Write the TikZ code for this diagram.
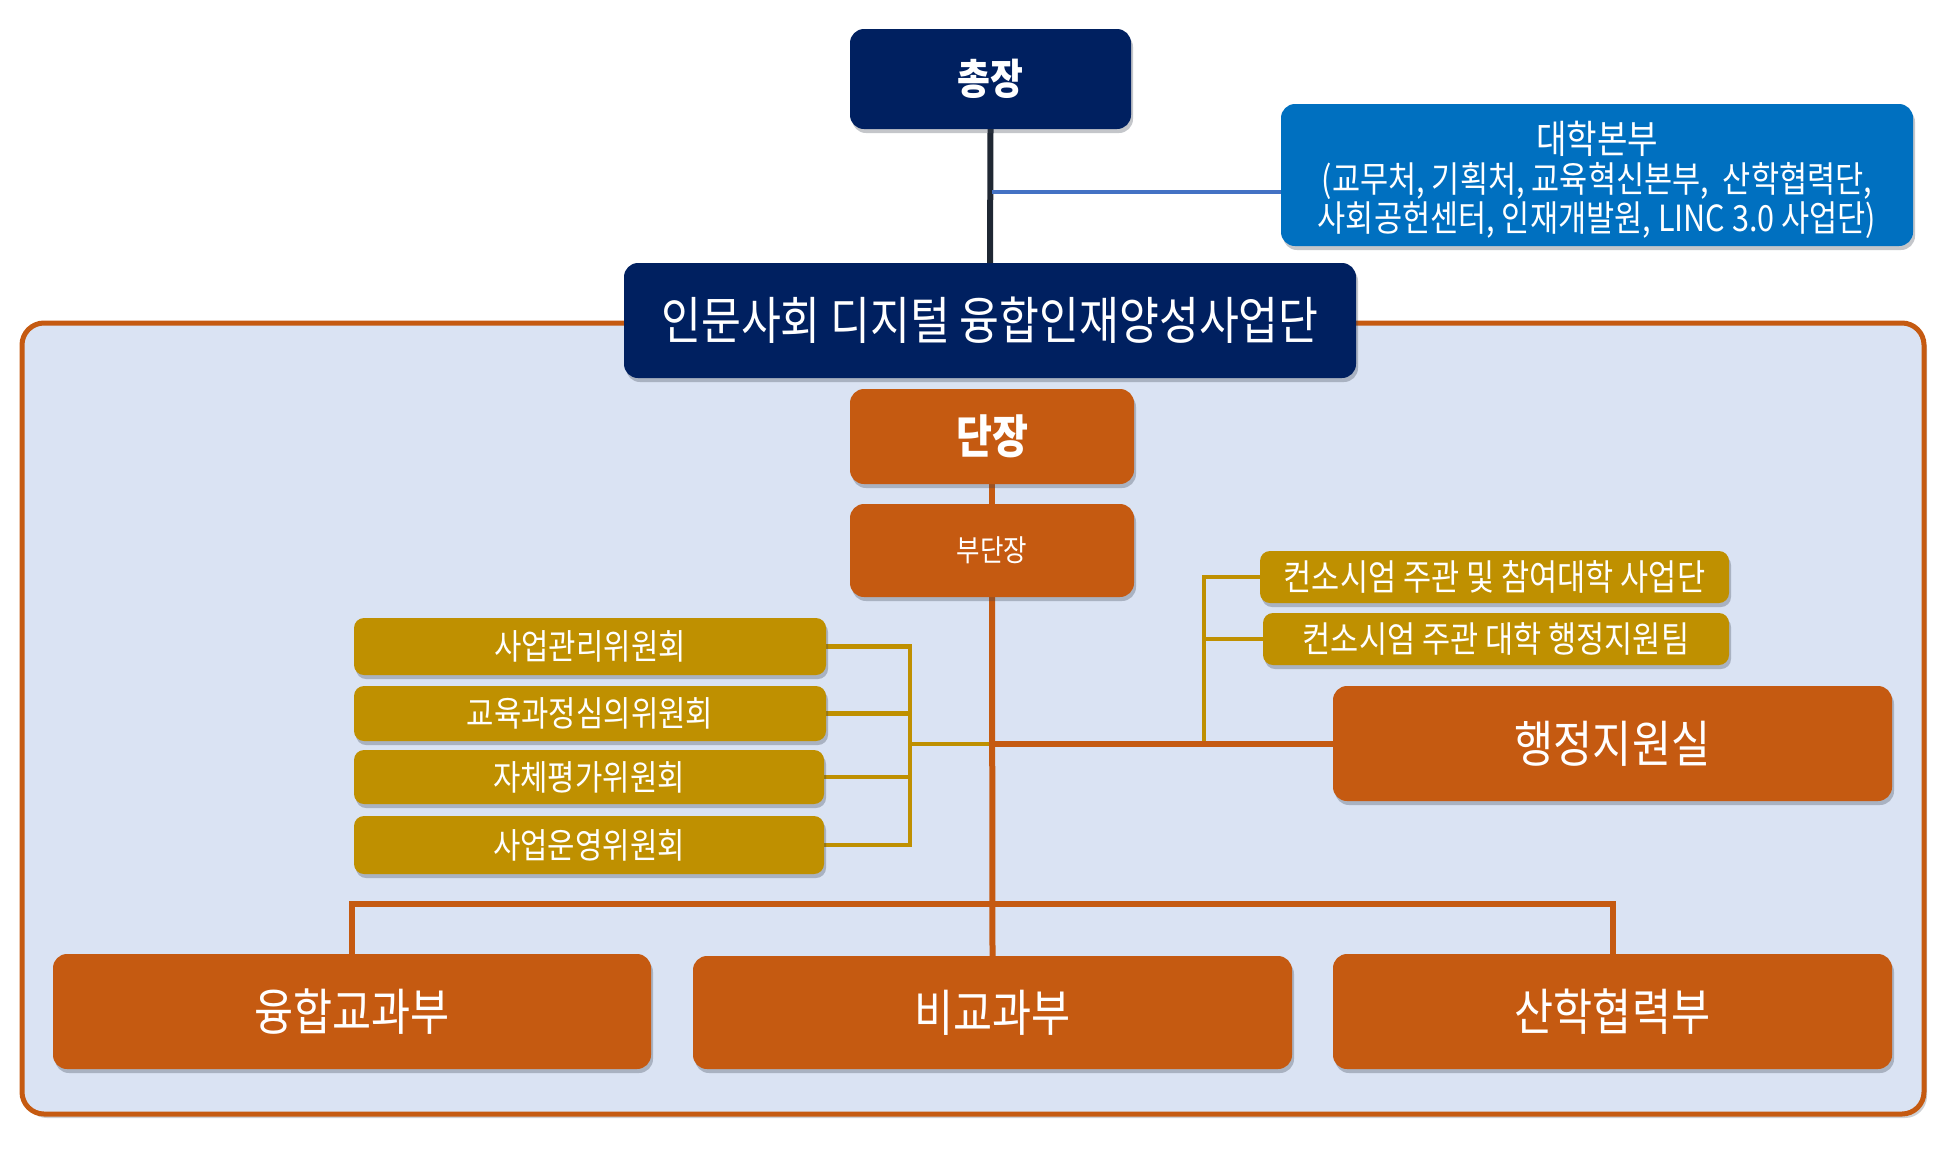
\documentclass[tikz,border=0pt]{standalone}
\usepackage{fontspec}
\newfontfamily\kr{Noto Sans CJK KR}[FakeStretch=0.85]
\usetikzlibrary{shadows}
\pgfdeclarelayer{framelayer}
\pgfdeclarelayer{linelayer}
\pgfsetlayers{framelayer,linelayer,main}
\definecolor{navy}{HTML}{002060}
\definecolor{uniblue}{HTML}{0070C0}
\definecolor{orng}{HTML}{C55A11}
\definecolor{gold}{HTML}{BF9000}
\definecolor{pale}{HTML}{DAE3F3}
\definecolor{linkblue}{HTML}{4472C4}
\definecolor{darkline}{HTML}{1F2733}
\definecolor{shade}{HTML}{3A4250}
\tikzset{
  box/.style={rounded corners=14pt, inner sep=0pt, text=white, align=center,
    drop shadow={shadow xshift=2pt, shadow yshift=-4pt, opacity=0.3, fill=shade}},
  navybox/.style={box, fill=navy},
  bluebox/.style={box, fill=uniblue},
  orangebox/.style={box, fill=orng},
  goldbox/.style={box, fill=gold, rounded corners=10pt},
  fs/.style={font={\kr\fontsize{#1}{#1}\selectfont}},
  orangeline/.style={draw=orng, line width=6pt},
  goldline/.style={draw=gold, line width=4.5pt},
}
\begin{document}
\begin{tikzpicture}[x=1pt,y=-1pt]
\useasboundingbox (0,0) rectangle (1945,1168);

% nodes
\node[navybox, minimum width=281pt, minimum height=100pt, font={\kr\bfseries\fontsize{42}{42}\selectfont}] (chong) at (990.5,79) {총장};
\node[bluebox, minimum width=632pt, minimum height=142pt, font={\kr\fontsize{36}{39}\selectfont}] (daehak) at (1597,175) {};
\node[text=white, align=center, inner sep=0pt, font={\kr\fontsize{36}{39}\selectfont}] (daehaktxt) at (1597,180)
  {{\fontsize{39}{39}\selectfont 대학본부}\\(교무처, 기획처, 교육혁신본부,\ \ 산학협력단,\\사회공헌센터, 인재개발원, LINC 3.0 사업단)};
\node[navybox, minimum width=732pt, minimum height=115pt, fs=51] (inmun) at (990,320.5) {인문사회 디지털 융합인재양성사업단};
\node[orangebox, minimum width=284pt, minimum height=95pt, font={\kr\bfseries\fontsize{46}{46}\selectfont}] (danjang) at (992,436.5) {단장};
\node[orangebox, minimum width=284pt, minimum height=93pt, fs=30] (budan) at (992,550.5) {부단장};

\node[goldbox, minimum width=472pt, minimum height=57pt, fs=35] (c1) at (590,646.5) {사업관리위원회};
\node[goldbox, minimum width=472pt, minimum height=55pt, fs=35] (c2) at (590,713.5) {교육과정심의위원회};
\node[goldbox, minimum width=470pt, minimum height=54pt, fs=35] (c3) at (589,777) {자체평가위원회};
\node[goldbox, minimum width=470pt, minimum height=58pt, fs=35] (c4) at (589,845) {사업운영위원회};

\node[goldbox, minimum width=469pt, minimum height=52pt, fs=36] (r1) at (1494.5,577) {컨소시엄 주관 및 참여대학 사업단};
\node[goldbox, minimum width=466pt, minimum height=52pt, fs=36] (r2) at (1496,639) {컨소시엄 주관 대학 행정지원팀};

\node[orangebox, minimum width=559pt, minimum height=115pt, fs=50] (haeng) at (1612.5,743.5) {행정지원실};

\node[orangebox, minimum width=598pt, minimum height=115pt, fs=50] (yung) at (352,1011.5) {융합교과부};
\node[orangebox, minimum width=599pt, minimum height=113pt, fs=50] (bigyo) at (992.5,1012.5) {비교과부};
\node[orangebox, minimum width=559pt, minimum height=115pt, fs=50] (sanhak) at (1612.5,1011.5) {산학협력부};

% container
\begin{pgfonlayer}{framelayer}
\node[draw=orng, line width=5pt, fill=pale, rounded corners=22pt, minimum width=1902pt, minimum height=791pt,
  drop shadow={shadow xshift=3pt, shadow yshift=-4pt, opacity=0.25, fill=shade}] (frame) at (973,718.5) {};
\end{pgfonlayer}

% connectors
\coordinate (blueY) at (992,192);
\coordinate (bL) at (910,744);
\coordinate (bR) at (1204,744);
\coordinate (bus) at (992,904);
\begin{pgfonlayer}{linelayer}
\draw[darkline, line width=6pt] (chong.south) -- (inmun.north);
\draw[linkblue, line width=4pt] (blueY) -- (blueY -| daehak.west);
\draw[orangeline] (danjang.south) -- (budan.north);
\draw[goldline] (c1.east) -| (bL);
\draw[goldline] (c4.east) -| (bL);
\draw[goldline] (c2.east) -- (c2.east -| bL);
\draw[goldline] (c3.east) -- (c3.east -| bL);
\draw[goldline] (bL) -- (bL -| budan.south);
\draw[goldline] (r1.west) -| (bR);
\draw[goldline] (r2.west) -- (r2.west -| bR);
\draw[orangeline] (budan.south) -- (bigyo.north);
\draw[orangeline] (budan.south |- haeng.west) -- (haeng.west);
\draw[orangeline] (yung.north) |- (bus) -| (sanhak.north);
\end{pgfonlayer}
\end{tikzpicture}
\end{document}
